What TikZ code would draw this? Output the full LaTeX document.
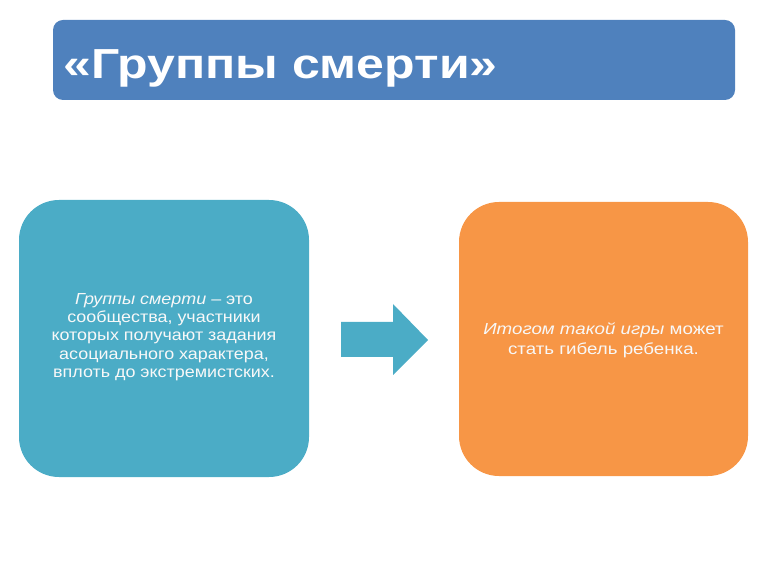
\documentclass[tikz,border=0pt]{standalone}
\usepackage{fontspec}
\setmainfont{Liberation Sans}
\definecolor{titleblue}{HTML}{4F81BD}
\definecolor{boxteal}{HTML}{4BACC6}
\definecolor{boxorange}{HTML}{F79646}
\definecolor{txtwhite}{HTML}{F8F8F8}
\begin{document}
\begin{tikzpicture}[x=1pt,y=1pt,
  titlebox/.style={fill=titleblue, rounded corners=10pt, minimum width=682pt, minimum height=80pt, inner sep=0pt},
  cardbox/.style={rounded corners=40pt, minimum width=290pt, minimum height=277pt, inner sep=0pt},
  cardtext/.style={text=txtwhite, align=center, inner sep=0pt, transform shape},
]
\useasboundingbox (0,0) rectangle (768,576);
\node[titlebox] (title) at (394,516) {};
\node[anchor=base west, text=white, font=\fontsize{42}{48}\bfseries\selectfont, inner sep=0pt, xscale=1.19, transform shape] (titletext) at (63,497) {«Группы смерти»};
\node[cardbox, fill=boxteal] (left) at (164,237.5) {};
\node[cardbox, fill=boxorange, minimum width=289pt, minimum height=274pt] (right) at (603.5,237) {};
\node[cardtext, xscale=1.12, font=\fontsize{16}{18.2}\selectfont] (lefttext) at (164,239) {\itshape Группы смерти\upshape{} – это\\сообщества, участники\\которых получают задания\\асоциального характера,\\вплоть до экстремистских.};
\node[cardtext, xscale=1.17, font=\fontsize{16}{20}\selectfont] (righttext) at (603.5,236) {\itshape Итогом такой игры\upshape{} может\\стать гибель ребенка.};
\coordinate (as1) at (341,254);
\coordinate (as2) at (393,254);
\coordinate (ah1) at (393,272);
\coordinate (tip) at (428,236);
\coordinate (ah2) at (393,201);
\coordinate (as3) at (393,219);
\coordinate (as4) at (341,219);
\fill[boxteal] (as1) -- (as2) -- (ah1) -- (tip) -- (ah2) -- (as3) -- (as4) -- cycle;
\end{tikzpicture}
\end{document}
